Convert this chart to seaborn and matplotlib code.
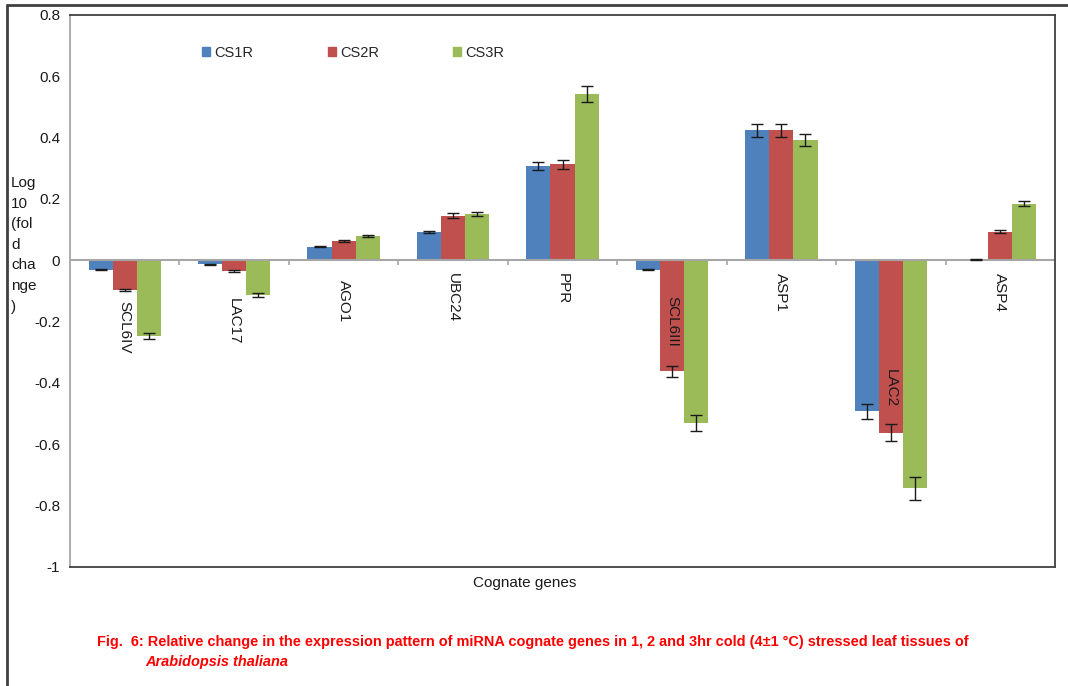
import matplotlib
matplotlib.use("Agg")
import matplotlib.pyplot as plt
from matplotlib.lines import Line2D
import numpy as np
import pandas as pd
import seaborn as sns

# Cognate genes and log10 fold change for each cold-stress duration
genes = ["SCL6IV", "LAC17", "AGO1", "UBC24", "PPR", "SCL6III", "ASP1", "LAC2", "ASP4"]
series = ["CS1R", "CS2R", "CS3R"]
cs1r = [-0.030, -0.013, 0.045, 0.092, 0.308, -0.030, 0.424, -0.492, 0.003]
cs2r = [-0.096, -0.035, 0.062, 0.146, 0.313, -0.362, 0.424, -0.562, 0.094]
cs3r = [-0.246, -0.113, 0.080, 0.151, 0.543, -0.531, 0.392, -0.743, 0.185]
cs1r_err = [0.002, 0.002, 0.002, 0.004, 0.014, 0.002, 0.022, 0.025, 0.002]
cs2r_err = [0.004, 0.003, 0.003, 0.007, 0.015, 0.017, 0.022, 0.027, 0.005]
cs3r_err = [0.010, 0.006, 0.004, 0.007, 0.026, 0.026, 0.019, 0.037, 0.009]
yticks = [0.8, 0.6, 0.4, 0.2, 0, -0.2, -0.4, -0.6, -0.8, -1]
ytick_labels = ["0.8", "0.6", "0.4", "0.2", "0", "-0.2", "-0.4", "-0.6", "-0.8", "-1"]
# vertical start (points below the zero line) of each rotated gene label
label_drop = [29, 27, 14, 9, 9, 26, 9, 78, 9]

colors = ["#4F81BD", "#C0504D", "#9BBB59"]

df = pd.DataFrame({
    "gene": genes * 3,
    "series": np.repeat(series, len(genes)),
    "value": cs1r + cs2r + cs3r,
})
errs = [cs1r_err, cs2r_err, cs3r_err]

sns.set_style("white")
plt.rcParams["font.family"] = ["Liberation Sans", "DejaVu Sans"]

fig = plt.figure(figsize=(10.68, 6.86), dpi=100)
ax = fig.add_axes([70 / 1068, 1 - 567 / 686, (1055 - 70) / 1068, (567 - 15) / 686])

sns.barplot(data=df, x="gene", y="value", hue="series", order=genes,
            hue_order=series, palette=colors, width=0.66, saturation=1,
            errorbar=None, ax=ax, legend=False, linewidth=0)

for cont, err in zip(ax.containers, errs):
    xs = [p.get_x() + p.get_width() / 2 for p in cont]
    ys = [p.get_height() for p in cont]
    ax.errorbar(xs, ys, yerr=err, fmt="none", ecolor="#1a1a1a",
                elinewidth=1.0, capsize=4, capthick=1.0, zorder=5)

ax.set_xlim(-0.5, len(genes) - 0.5)
ax.set_ylim(-1, 0.8)
ax.set_yticks(yticks)
ax.set_yticklabels(ytick_labels, fontsize=11)
ax.tick_params(axis="y", direction="out", length=4, width=1, color="#A6A6A6",
               pad=3, labelcolor="#1a1a1a")
ax.set_xticks([])
ax.set_xlabel("")
ax.set_ylabel("")

# zero line with category separators
ax.axhline(0, color="#A6A6A6", lw=1.5, zorder=1)
for k in range(len(genes) - 1):
    ax.plot([k + 0.5, k + 0.5], [0, -0.016], color="#A6A6A6", lw=1.2,
            zorder=1, solid_capstyle="butt")

for i, (g, d) in enumerate(zip(genes, label_drop)):
    ax.annotate(g, xy=(i, 0), xytext=(0, -d), textcoords="offset points",
                rotation=-90, ha="center", va="top", fontsize=11,
                color="#1a1a1a", zorder=6)

for side in ["top", "right", "bottom"]:
    ax.spines[side].set_color("#404040")
    ax.spines[side].set_linewidth(1.3)
ax.spines["left"].set_color("#A6A6A6")
ax.spines["left"].set_linewidth(1.3)

handles = [plt.Rectangle((0, 0), 1, 1, color=c) for c in colors]
ax.legend(handles, series, loc="upper left", bbox_to_anchor=(0.121, 0.968),
          ncol=3, frameon=False, fontsize=10.5, handlelength=0.55,
          handleheight=0.55, handletextpad=0.3, columnspacing=5.07)

# y-axis caption stacked as narrow wrapped lines
fig.text(11 / 1068, 1 - 176 / 686, "Log\n10\n(fol\nd\ncha\nnge\n)",
         ha="left", va="top", fontsize=11, linespacing=1.6, color="#1a1a1a")

fig.text(525 / 1068, 1 - 583 / 686, "Cognate genes", ha="center", va="center",
         fontsize=11, color="#1a1a1a")

fig.text(97 / 1068, 1 - 642 / 686,
         "Fig.  6: Relative change in the expression pattern of miRNA cognate genes in 1, 2 and 3hr cold (4\u00b11 \u00b0C) stressed leaf tissues of",
         ha="left", va="center", fontsize=10.45, fontweight="bold", color="#FF0000")
fig.text(145 / 1068, 1 - 662 / 686, "Arabidopsis thaliana", ha="left",
         va="center", fontsize=10.45, fontweight="bold", fontstyle="italic",
         color="#FF0000")

# outer frame lines along the left and top edges
fig.add_artist(Line2D([7 / 1068, 7 / 1068], [0, 1 - 5 / 686], color="#404040",
                      lw=2, transform=fig.transFigure))
fig.add_artist(Line2D([7 / 1068, 1], [1 - 5 / 686, 1 - 5 / 686], color="#404040",
                      lw=2, transform=fig.transFigure))

fig.savefig("out.png", dpi=100)
